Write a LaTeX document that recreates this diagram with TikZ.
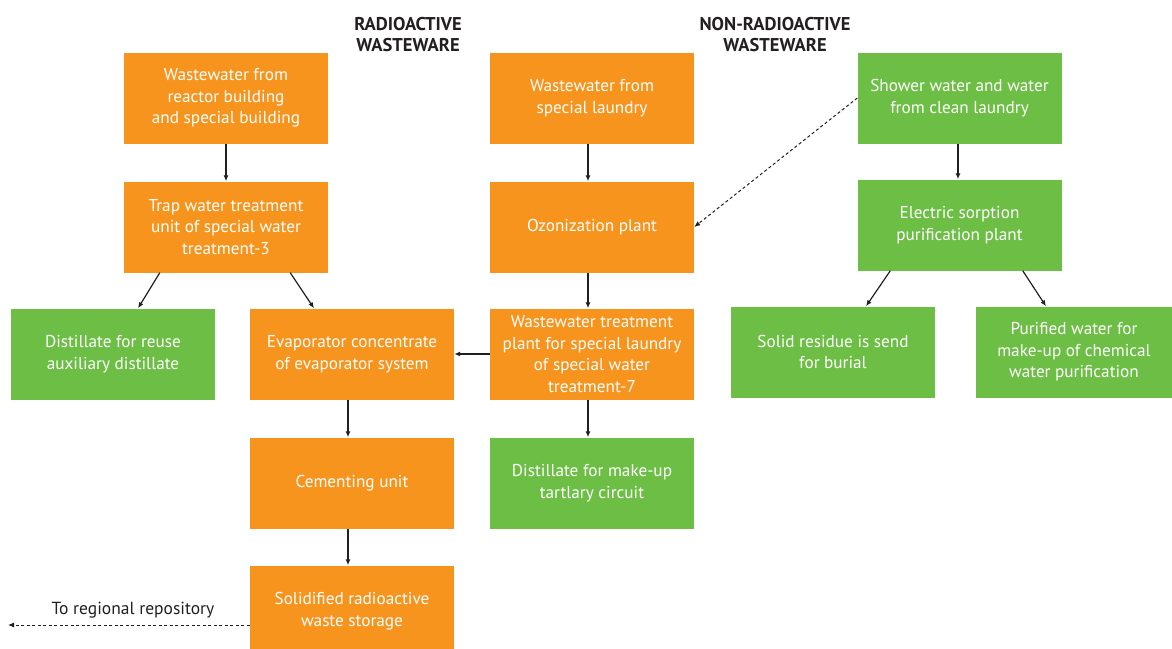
\documentclass[tikz,border=0pt]{standalone}
\usepackage{fontspec}
\setmainfont{PT Sans}
\usetikzlibrary{arrows.meta,calc}
\definecolor{orng}{HTML}{F7941D}
\definecolor{grn}{HTML}{6DBE45}
\definecolor{ink}{HTML}{231F20}
\tikzset{
  x=1pt,y=-1pt,
  box/.style={minimum width=204pt,minimum height=91pt,inner sep=0pt,align=center,text=white,font=\fontsize{17.2}{21.5}\selectfont},
  obox/.style={box,fill=orng},
  gbox/.style={box,fill=grn},
  arr/.style={draw=ink,line width=1.2pt,-{Latex[length=6pt,width=5pt]}},
  darr/.style={draw=ink,line width=1pt,dashed,dash pattern=on 3pt off 2.5pt,-{Latex[length=6pt,width=5pt]}},
  head/.style={align=center,text=ink,font=\bfseries\fontsize{18.5}{21}\selectfont,inner sep=0pt},
}
\begin{document}
\begin{tikzpicture}
\useasboundingbox (0,0) rectangle (1172,648);
% headers
\node[head] (h1) at (408,35) {RADIOACTIVE\\WASTEWARE};
\node[head] (h2) at (775,35) {NON-RADIOACTIVE\\WASTEWARE};
% left column
\node[obox] (A) at (226,98) {Wastewater from\\reactor building\\and special building};
\node[obox] (B) at (226,227) {Trap water treatment\\unit of special water\\treatment-3};
\node[gbox] (C) at (113,354) {Distillate for reuse\\auxiliary distillate};
\node[obox] (D) at (352,354) {Evaporator concentrate\\of evaporator system};
\node[obox] (E) at (352,483) {Cementing unit};
\node[obox] (F) at (352,611) {Solidified radioactive\\waste storage};
% middle column
\node[obox] (G) at (592,98) {Wastewater from\\special laundry};
\node[obox] (H) at (592,227) {Ozonization plant};
\node[obox] (I) at (592,354) {Wastewater treatment\\plant for special laundry\\of special water\\treatment-7};
\node[gbox] (J) at (592,483) {Distillate for make-up\\tartlary circuit};
% right column
\node[gbox] (K) at (959.5,98) {Shower water and water\\from clean laundry};
\node[gbox] (L) at (959.5,225) {Electric sorption\\purification plant};
\node[gbox] (M) at (833,352) {Solid residue is send\\for burial};
\node[gbox,minimum width=196pt] (N) at (1074,352) {Purified water for\\make-up of chemical\\water purification};
% arrows
\draw[arr] (A.south) -- (B.north);
\draw[arr] ([xshift=36pt]B.south west) -- ([xshift=25pt]C.north);
\draw[arr] ([xshift=-38pt]B.south east) -- ([xshift=-38pt]D.north);
\draw[arr] ([xshift=-4pt]D.south) -- ([xshift=-4pt]E.north);
\draw[arr] ([xshift=-4pt]E.south) -- ([xshift=-4pt]F.north);
\draw[arr] ([xshift=-4pt]G.south) -- ([xshift=-4pt]H.north);
\draw[arr] ([xshift=-4pt]H.south) -- ([xshift=-4pt]I.north);
\draw[arr] ([xshift=-4pt]I.south) -- ([xshift=-4pt]J.north);
\draw[arr] (I.west) -- (D.east);
\draw[arr] ([xshift=-1.5pt]K.south) -- ([xshift=-1.5pt]L.north);
\draw[arr] ([xshift=33pt]L.south west) -- ([xshift=33pt]M.north);
\draw[arr] ([xshift=-39pt]L.south east) -- ([xshift=-28pt]N.north);
\draw[darr] (K.west) -- (H.east);
\coordinate (rep) at (8,625);
\draw[darr] ([yshift=-14pt]F.west) -- (rep);
\node[text=ink,font=\fontsize{17.5}{20}\selectfont,inner sep=0pt] (lab) at (133,610) {To regional repository};
\end{tikzpicture}
\end{document}
